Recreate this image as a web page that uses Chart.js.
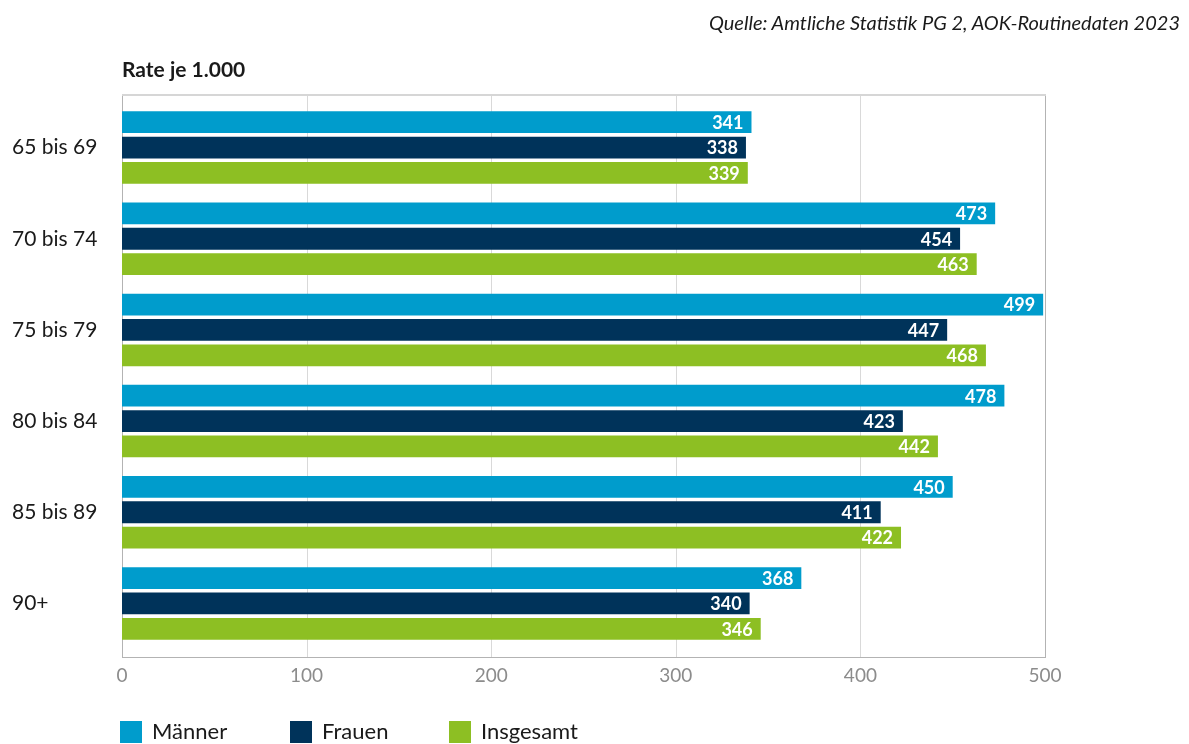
<!DOCTYPE html>
<html>
<head>
<meta charset="utf-8">
<script src="https://cdn.jsdelivr.net/npm/chart.js@4"></script>
<style>
	body { margin: 0; background: #fff; font-family: Lato, "Open Sans", sans-serif; }
	#wrap { position: relative; width: 1189px; height: 744px; overflow: hidden; }
	#chart { position: absolute; left: 0; top: 0; }
	.quelle { position: absolute; right: 9px; top: 10px; font-size: 20px; font-style: italic; color: #1a1a1a; }
	.unit { position: absolute; left: 122px; top: 56px; font-size: 21px; font-weight: bold; color: #1a1a1a; }
	.legend { position: absolute; top: 721px; left: 0; }
	.legend span { position: absolute; top: 0; width: 22px; height: 22px; }
	.legend b { position: absolute; top: -4px; font-weight: normal; font-size: 22px; color: #1a1a1a; white-space: nowrap; }
</style>
</head>
<body>
<div id="wrap">
	<canvas id="chart" width="1189" height="744"></canvas>
	<div class="quelle">Quelle: Amtliche Statistik PG 2, AOK-Routinedaten 2023</div>
	<div class="unit">Rate je 1.000</div>
	<div class="legend" id="legend"></div>
</div>
<script>
	// Daten
	const ageGroups = ['65 bis 69', '70 bis 74', '75 bis 79', '80 bis 84', '85 bis 89', '90+'];
	const seriesNames = ['Männer', 'Frauen', 'Insgesamt'];
	const maenner = [341, 473, 499, 478, 450, 368];
	const frauen = [338, 454, 447, 423, 411, 340];
	const insgesamt = [339, 463, 468, 442, 422, 346];
	const xTicks = [0, 100, 200, 300, 400, 500];
	const colors = ['#009ccc', '#00335a', '#8dbf23'];

	// Legende (HTML)
	const legendX = [120, 290, 449];
	const legend = document.getElementById('legend');
	seriesNames.forEach((name, i) => {
		legend.innerHTML += `<span style="left:${legendX[i]}px;background:${colors[i]}"></span>` +
			`<b style="left:${legendX[i] + 32}px">${name}</b>`;
	});

	// Rahmen + Gitterlinien etwas über die Balken hinaus
	const framePlugin = {
		id: 'frame',
		beforeDatasetsDraw(chart) {
			const { ctx, chartArea, scales } = chart;
			const top = chartArea.top - 7;
			const bottom = chartArea.bottom + 8;
			ctx.save();
			ctx.lineWidth = 1;
			xTicks.forEach(v => {
				const x = Math.round(scales.x.getPixelForValue(v)) + 0.5;
				ctx.strokeStyle = (v === 0 || v === 500) ? '#b3b3b3' : '#d9d9d9';
				ctx.beginPath();
				ctx.moveTo(x, top);
				ctx.lineTo(x, bottom);
				ctx.stroke();
			});
			// oben
			ctx.strokeStyle = '#d6d6d6';
			ctx.lineWidth = 2;
			ctx.beginPath();
			ctx.moveTo(chartArea.left, top);
			ctx.lineTo(chartArea.right + 1, top);
			ctx.stroke();
			// unten
			ctx.strokeStyle = '#b3b3b3';
			ctx.lineWidth = 1;
			ctx.beginPath();
			ctx.moveTo(chartArea.left, bottom + 0.5);
			ctx.lineTo(chartArea.right + 1, bottom + 0.5);
			ctx.stroke();
			ctx.restore();
		}
	};

	// Werte in den Balken
	const valueLabels = {
		id: 'valueLabels',
		afterDatasetsDraw(chart) {
			const { ctx } = chart;
			ctx.save();
			ctx.font = 'bold 18px Lato, "Open Sans", sans-serif';
			ctx.fillStyle = '#ffffff';
			ctx.textAlign = 'right';
			ctx.textBaseline = 'middle';
			chart.data.datasets.forEach((ds, i) => {
				chart.getDatasetMeta(i).data.forEach((bar, j) => {
					ctx.fillText(ds.data[j], bar.x - 8, bar.y + 1);
				});
			});
			ctx.restore();
		}
	};

	const series = [maenner, frauen, insgesamt];

	new Chart(document.getElementById('chart'), {
		type: 'bar',
		data: {
			labels: ageGroups,
			datasets: seriesNames.map((name, i) => ({
				label: name,
				data: series[i],
				backgroundColor: colors[i],
				borderWidth: 0,
				categoryPercentage: 0.835,
				barPercentage: 0.86
			}))
		},
		options: {
			indexAxis: 'y',
			responsive: false,
			animation: false,
			layout: { padding: { left: 12, top: 102, right: 144, bottom: 55 } },
			plugins: {
				legend: { display: false },
				tooltip: { enabled: false }
			},
			scales: {
				x: {
					min: 0,
					max: 500,
					afterBuildTicks: (scale) => { scale.ticks = xTicks.map(v => ({ value: v })); },
					afterFit: (scale) => { scale.height = 40; },
					grid: { display: false, drawTicks: false },
					border: { display: false },
					ticks: {
						padding: 15,
						color: '#8c8c8c',
						font: { family: 'Lato, "Open Sans", sans-serif', size: 19 }
					}
				},
				y: {
					afterFit: (scale) => { scale.width = 110; },
					grid: { display: false, drawTicks: false },
					border: { display: false },
					ticks: {
						crossAlign: 'far',
						color: '#1a1a1a',
						font: { family: 'Lato, "Open Sans", sans-serif', size: 21 }
					}
				}
			}
		},
		plugins: [framePlugin, valueLabels]
	});
</script>
</body>
</html>
